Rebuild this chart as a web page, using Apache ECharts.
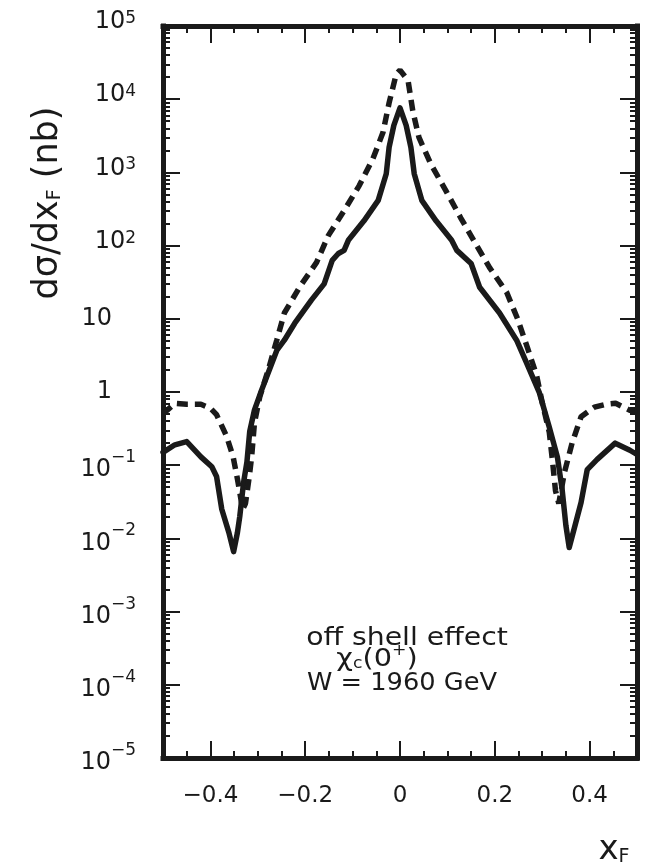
<!DOCTYPE html>
<html>
<head>
<meta charset="utf-8">
<script src="https://cdn.jsdelivr.net/npm/echarts@6/dist/echarts.min.js"></script>
<style>
html,body{margin:0;padding:0;background:#fff;}
#chart{width:657px;height:865px;}
</style>
</head>
<body>
<div id="chart"></div>
<script>
// ---- data ----
var solidX = [-0.5,-0.475,-0.45,-0.42,-0.397,-0.387,-0.376,-0.361,-0.351,-0.343,-0.338,-0.334,-0.33,-0.323,-0.317,-0.307,-0.292,-0.26,-0.244,-0.222,-0.187,-0.16,-0.143,-0.13,-0.118,-0.109,-0.076,-0.046,-0.029,-0.023,-0.013,0,
              0.013,0.023,0.03,0.046,0.076,0.109,0.12,0.15,0.168,0.21,0.246,0.267,0.294,0.315,0.332,0.342,0.35,0.357,0.368,0.382,0.395,0.416,0.454,0.485,0.5];
var solidY = [0.15,0.19,0.21,0.13,0.095,0.07,0.025,0.012,0.0066,0.012,0.02,0.034,0.058,0.11,0.29,0.57,1.06,3.7,5.1,8.7,18,30,63,78,86,118,218,415,960,2200,4400,7600,
              4400,2200,960,415,218,118,86,57,27,12,5.1,2.5,0.98,0.33,0.13,0.047,0.015,0.0075,0.014,0.031,0.087,0.12,0.2,0.16,0.14];
var dashX = [-0.5,-0.475,-0.45,-0.42,-0.40,-0.387,-0.366,-0.352,-0.342,-0.332,-0.326,-0.318,-0.313,-0.307,-0.296,-0.277,-0.26,-0.244,-0.212,-0.176,-0.151,-0.118,-0.086,-0.057,-0.036,-0.023,-0.008,0,
             0.017,0.027,0.04,0.065,0.097,0.128,0.16,0.189,0.225,0.248,0.269,0.288,0.30,0.315,0.322,0.328,0.335,0.347,0.363,0.382,0.41,0.435,0.455,0.483,0.5];
var dashY = [0.5,0.7,0.68,0.68,0.6,0.49,0.25,0.13,0.06,0.025,0.03,0.07,0.13,0.38,0.85,2.1,5.1,12,27,59,138,300,660,1550,3500,8900,22000,25000,
             18000,6900,3000,1300,560,240,105,50,23,10,4,1.7,0.72,0.28,0.11,0.045,0.03,0.08,0.2,0.46,0.62,0.68,0.7,0.57,0.52];
var xTickLabels = ['\u22120.4','\u22120.2','0','0.2','0.4'];
var annotationLines = ['off shell effect', '\u03c7c(0+)', 'W = 1960 GeV'];

function zip(a, b){ var out=[]; for (var i=0;i<a.length;i++) out.push([a[i], b[i]]); return out; }

var FONT = 'DejaVu Sans';
var INK = '#1a1a1a';

var chart = echarts.init(document.getElementById('chart'), null, {renderer:'canvas'});

function xLabelFmt(v){
  var r = Math.round(v*10)/10;
  if (Math.abs(r) > 0.45) return '';
  var idx = Math.round((r + 0.4) / 0.2);
  return xTickLabels[idx] !== undefined ? xTickLabels[idx] : '';
}
function yLabelFmt(v){
  var e = Math.round(Math.log10(v));
  if (e === 0) return '{p|1}';
  if (e === 1) return '{p|10}';
  if (e < 0) return '{bn|10}{sn|\u2212' + (-e) + '}';
  return '{bp|10}{sp|' + e + '}';
}

var majorTick = {show:true, inside:true, length:17, lineStyle:{color:INK, width:2}};
var lineStyleAxis = {show:true, onZero:false, lineStyle:{color:INK, width:5, cap:'square'}};
var minorTickY = {show:true, splitNumber:9, length:7, lineStyle:{color:INK, width:2}};

var option = {
  animation:false,
  backgroundColor:'#ffffff',
  grid:{left:163, right:20, top:26, bottom:107, containLabel:false},
  xAxis:[
    {type:'value', position:'bottom', min:-0.5, max:0.5, splitNumber:5,
     axisLine:lineStyleAxis, axisTick:majorTick, splitLine:{show:false},
     axisLabel:{show:true, formatter:xLabelFmt, margin:27, fontFamily:FONT, fontSize:23, color:INK, showMinLabel:false, showMaxLabel:false}},
    {type:'value', position:'bottom', min:-0.5, max:0.5, interval:0.05,
     axisLine:{show:false, onZero:false}, axisTick:{show:true, inside:true, length:7, lineStyle:{color:INK, width:2}},
     splitLine:{show:false}, axisLabel:{show:false}},
    {type:'value', position:'top', min:-0.5, max:0.5, splitNumber:5,
     axisLine:lineStyleAxis, axisTick:majorTick, splitLine:{show:false}, axisLabel:{show:false}},
    {type:'value', position:'top', min:-0.5, max:0.5, interval:0.05,
     axisLine:{show:false, onZero:false}, axisTick:{show:true, inside:true, length:7, lineStyle:{color:INK, width:2}},
     splitLine:{show:false}, axisLabel:{show:false}}
  ],
  yAxis:[
    {type:'log', logBase:10, position:'left', min:1e-5, max:1e5, interval:1,
     axisLine:lineStyleAxis, axisTick:majorTick, minorTick:minorTickY,
     splitLine:{show:false}, minorSplitLine:{show:false},
     axisLabel:{show:true, formatter:yLabelFmt, margin:27, align:'right', color:INK,
       rich:{
         bp:{fontFamily:FONT, fontSize:24, lineHeight:32, verticalAlign:'top', color:INK},
         sp:{fontFamily:FONT, fontSize:17, lineHeight:17, verticalAlign:'top', padding:[0,0,18,0], color:INK},
         bn:{fontFamily:FONT, fontSize:24, lineHeight:32, verticalAlign:'top', padding:[9,0,0,0], color:INK},
         sn:{fontFamily:FONT, fontSize:17, lineHeight:17, verticalAlign:'top', padding:[0,0,46,0], color:INK},
         p:{fontFamily:FONT, fontSize:24, lineHeight:32, color:INK, padding:[0,24,0,0]}
       }}},
    {type:'log', logBase:10, position:'right', min:1e-5, max:1e5, interval:1,
     axisLine:lineStyleAxis, axisTick:majorTick, minorTick:minorTickY,
     splitLine:{show:false}, minorSplitLine:{show:false}, axisLabel:{show:false}}
  ],
  series:[
    {name:'off shell', type:'line', xAxisIndex:0, yAxisIndex:0, data:zip(solidX, solidY),
     showSymbol:false, symbol:'none', smooth:false,
     lineStyle:{color:INK, width:5.5, type:'solid', join:'round', cap:'round'}},
    {name:'on shell', type:'line', xAxisIndex:0, yAxisIndex:0, data:zip(dashX, dashY),
     showSymbol:false, symbol:'none', smooth:false,
     lineStyle:{color:INK, width:5.5, type:[11,7], cap:'butt'}}
  ],
  graphic:[
    {type:'text', x:44, y:203, rotation:Math.PI/2, silent:true,
     style:{text:'{m|d\u03c3/dx}{f|F}{m| (nb)}', align:'center', verticalAlign:'middle',
       rich:{m:{fontFamily:FONT, fontSize:35, lineHeight:42, verticalAlign:'bottom', fill:INK},
             f:{fontFamily:FONT, fontSize:19, lineHeight:22, verticalAlign:'bottom', fill:INK}}}},
    {type:'text', x:614, y:846, silent:true,
     style:{text:'{m|x}{f|F}', align:'center', verticalAlign:'middle',
       rich:{m:{fontFamily:FONT, fontSize:34, lineHeight:42, verticalAlign:'bottom', fill:INK},
             f:{fontFamily:FONT, fontSize:19, lineHeight:22, verticalAlign:'bottom', fill:INK}}}},
    {type:'text', x:407, y:639, scaleX:1.18, silent:true,
     style:{text:annotationLines[0], align:'center', verticalAlign:'middle', font:'24px "DejaVu Sans"', fill:INK}},
    {type:'text', x:377, y:658, scaleX:1.15, silent:true,
     style:{text:'{a|\u03c7}{c|c}{a|(0}{p|+}{a|)}', align:'center', verticalAlign:'middle',
       rich:{a:{fontFamily:FONT, fontSize:25, lineHeight:28, verticalAlign:'bottom', fill:INK},
             c:{fontFamily:FONT, fontSize:15, lineHeight:15, verticalAlign:'bottom', fill:INK},
             p:{fontFamily:FONT, fontSize:15, lineHeight:15, verticalAlign:'top', fill:INK}}}},
    {type:'text', x:402, y:684, scaleX:1.07, silent:true,
     style:{text:annotationLines[2], align:'center', verticalAlign:'middle', font:'24px "DejaVu Sans"', fill:INK}}
  ]
};
chart.setOption(option);
</script>
</body>
</html>
